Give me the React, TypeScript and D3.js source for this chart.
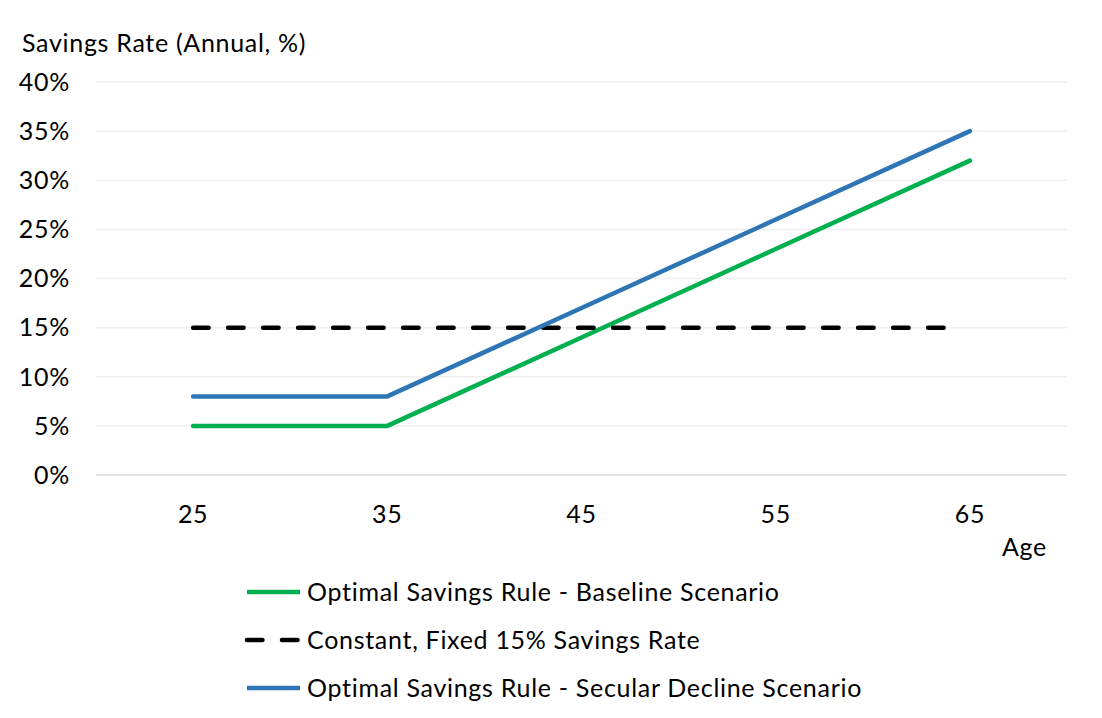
import React from "react";
import * as d3 from "d3";

const ages = [25, 35, 45, 55, 65];
const baseline = [5, 5, 14, 23, 32];
const fixed15 = [15, 15, 15, 15, 15];
const secular = [8, 8, 17, 26, 35];
const yTicks = [0, 5, 10, 15, 20, 25, 30, 35, 40];

const dashLong = Array(21).fill("15.5,19.5").join(",") + ",15.5,1000";

const series = [
  { name: "Optimal Savings Rule - Baseline Scenario", values: baseline, color: "#00b050", dash: "" },
  { name: "Constant, Fixed 15% Savings Rate", values: fixed15, color: "#000000", dash: dashLong },
  { name: "Optimal Savings Rule - Secular Decline Scenario", values: secular, color: "#2e75b6", dash: "" },
];

const FONT = "Lato, 'Open Sans', sans-serif";
const FS = 25;
const LS = 0.7;

export default function App() {
  const W = 1102, H = 718;
  const left = 96, right = 1067, top = 82, bottom = 475;
  const x = d3.scaleBand<number>().domain(ages).range([left, right]);
  const xc = (a: number) => (x(a) as number) + x.bandwidth() / 2;
  const y = d3.scaleLinear().domain([0, 40]).range([bottom, top]);
  const line = d3.line<number>().x((_, i) => xc(ages[i])).y((v) => y(v));

  return (
    <svg width={W} height={H} style={{ position: "absolute", left: 0, top: 0, background: "#fff" }}
      fontFamily={FONT} fontSize={FS} letterSpacing={LS}>
      <text x={22} y={52} fill="#000">Savings Rate (Annual, %)</text>
      {yTicks.map((t) => (
        <g key={t}>
          <line x1={left} x2={right} y1={y(t)} y2={y(t)} stroke={t === 0 ? "#d9d9d9" : "#efefef"} strokeWidth={1.5} />
          <text x={70} y={y(t)} dy="0.35em" textAnchor="end" fill="#000">{t}%</text>
        </g>
      ))}
      {ages.map((a) => (
        <text key={a} x={xc(a)} y={514} dy="0.35em" textAnchor="middle" fill="#000">{a}</text>
      ))}
      <text x={1047} y={556} textAnchor="end" fill="#000">Age</text>
      {series.map((s) => (
        <path key={s.name} d={line(s.values) || ""} fill="none" stroke={s.color} strokeWidth={4.5}
          strokeDasharray={s.dash || undefined} strokeLinecap="round" strokeLinejoin="round" />
      ))}
      {series.map((s, i) => {
        const ly = 592 + i * 48;
        return (
          <g key={s.name}>
            <line x1={247} x2={300} y1={ly} y2={ly} stroke={s.color} strokeWidth={4.5}
              strokeDasharray={s.dash ? "15.5,19.5" : undefined} strokeLinecap={s.dash ? "round" : "butt"} />
            <text x={307} y={ly} dy="0.35em" fill="#000">{s.name}</text>
          </g>
        );
      })}
    </svg>
  );
}
